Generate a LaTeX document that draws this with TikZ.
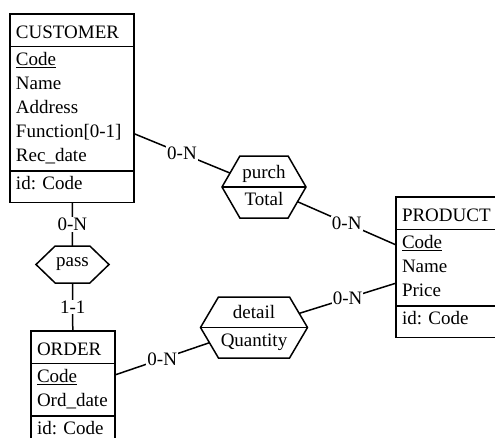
\documentclass[tikz,border=0pt]{standalone}
\usepackage{fontspec}
\setmainfont{Liberation Serif}
\usetikzlibrary{shapes.multipart,shapes.symbols}

\newcommand{\enttitle}[1]{\rule[-6pt]{0pt}{28pt}#1}
\newcommand{\entid}[1]{\rule[-10.5pt]{0pt}{27pt}#1}

\begin{document}
\begin{tikzpicture}[
  x=1pt, y=-1pt,
  every node/.style={font=\fontsize{19}{24}\selectfont\frenchspacing},
  entity/.style={draw, line width=1.5pt, rectangle split, rectangle split parts=3,
    text width=#1, align=left, inner xsep=6pt, inner ysep=1.5pt, outer sep=0pt,
    anchor=north west},
  rela/.style={draw, line width=1.5pt, shape=signal, signal to=east and west,
    signal pointer angle=#1, align=center, inner sep=0pt, outer sep=0pt},
  link/.style={line width=1.5pt},
  card/.style={fill=white, inner sep=1pt}
]
\useasboundingbox (0,0) rectangle (495,437);

% entities
\node[entity=112pt] (customer) at (10,14) {\enttitle{CUSTOMER}
  \nodepart{two}\strut\underline{Code}\\ Name\\ Address\\ Function[0-1]\\ Rec\_date\strut
  \nodepart{three}\entid{id: Code}};
\node[entity=90pt] (product) at (396,197) {\enttitle{PRODUCT}
  \nodepart{two}\strut\underline{Code}\\ Name\\ Price\strut
  \nodepart{three}\entid{id: Code}};
\node[entity=72pt] (order) at (31,331) {\enttitle{ORDER}
  \nodepart{two}\strut\underline{Code}\\ Ord\_date\strut
  \nodepart{three}\entid{id: Code}};

% relationships
\node[rela=120, minimum width=84pt, minimum height=62pt] (purch) at (264,187)
  {\strut purch\\[3pt]\strut Total};
\node[rela=88, minimum width=73pt, minimum height=37pt] (pass) at (72.5,264.5) {pass};
\node[rela=119, minimum width=107pt, minimum height=61pt] (detail) at (254,327.5)
  {\strut detail\\[4pt]\strut Quantity};
\draw[link] (purch.west) -- (purch.east);
\draw[link] (detail.west) -- (detail.east);

% roles
\draw[link] (customer) -- node[card] {0-N} (purch);
\draw[link] (purch) -- node[card] {0-N} (product);
\draw[link] (customer) -- node[card] {0-N} (pass);
\draw[link] (pass) -- node[card] {1-1} (order);
\draw[link] (order) -- node[card] {0-N} (detail);
\draw[link] (detail) -- node[card] {0-N} (product);
\end{tikzpicture}
\end{document}
